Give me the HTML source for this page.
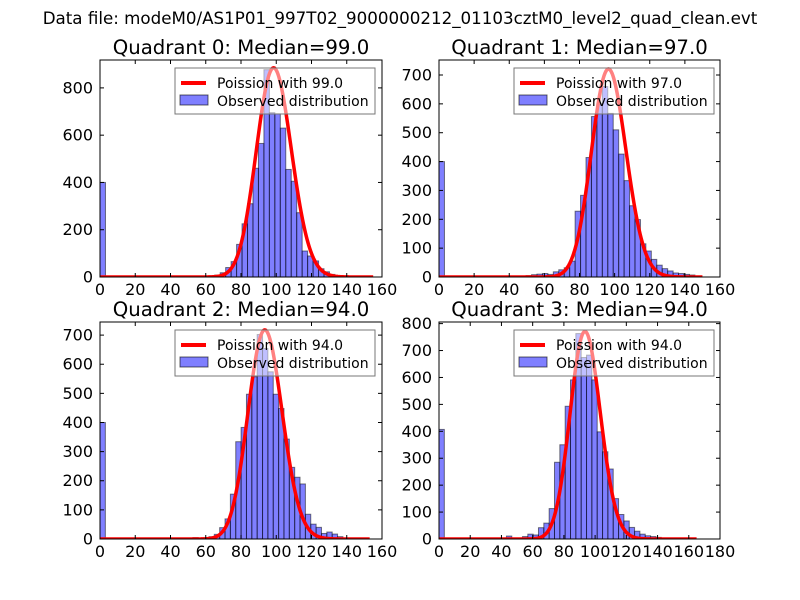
<!DOCTYPE html>
<html><head><meta charset="utf-8"><style>
body{margin:0;background:#fff}
svg{display:block}
text{font-family:"DejaVu Sans","Liberation Sans",sans-serif;fill:#000}
</style></head><body>
<svg id="fig" width="800" height="600" viewBox="0 0 800 600">
<rect width="800" height="600" fill="#fff"/>
<text x="400" y="24" text-anchor="middle" font-size="16.7">Data file: modeM0/AS1P01_997T02_9000000212_01103cztM0_level2_quad_clean.evt</text>
</svg>
<script>
// Data per quadrant
const titles = ["Quadrant 0: Median=99.0","Quadrant 1: Median=97.0","Quadrant 2: Median=94.0","Quadrant 3: Median=94.0"];
const medians = [99.0, 97.0, 94.0, 94.0];
const zeroCounts = [400, 400, 400, 407];
const binStarts = [58.9, 49.6, 52.7, 43.2];
const binWidths = [3.1, 3.1, 3.04, 3.42];
const counts0 = [3,5,8,18,40,65,138,225,310,460,565,877,695,690,630,455,405,272,110,89,68,35,22,11,5,3];
const counts1 = [5,8,10,12,9,18,25,32,55,228,283,414,556,600,660,567,510,426,334,247,199,115,90,61,41,29,21,14,12,9,7,3];
const counts2 = [5,0,4,8,16,39,69,154,334,383,497,557,702,654,574,497,448,343,246,212,189,85,51,40,19,24,17,8,3];
const counts3 = [11,0,0,9,18,15,42,59,113,285,350,493,591,763,674,683,591,398,324,260,150,91,67,43,29,18,12,9,6];
const allCounts = [counts0, counts1, counts2, counts3];
const curvePeaks = [884, 720, 717, 770];
const curveEnds = [155, 150, 153, 165];
const xMaxes = [160, 160, 160, 180];
const yMaxes = [918, 752, 745, 806];
const yTickSteps = [200, 100, 100, 100];
const legendLabels = ["Poission with 99.0","Poission with 97.0","Poission with 94.0","Poission with 94.0"];

const NS = "http://www.w3.org/2000/svg";
const svg = document.getElementById('fig');
const boxes = [[100,60,382,277],[439,60,720,277],[100,322,382,539],[439,322,720,539]];
function mk(tag, attrs, parent){const e=document.createElementNS(NS,tag);for(const k in attrs)e.setAttribute(k,attrs[k]);(parent||svg).appendChild(e);return e;}
function lgamma(z){
  let s=0; while(z<7){s-=Math.log(z);z+=1;}
  return s+(z-0.5)*Math.log(z)-z+0.5*Math.log(2*Math.PI)+1/(12*z)-1/(360*z*z*z);
}
function pois(k,mu){return Math.exp(k*Math.log(mu)-mu-lgamma(k+1));}

for(let q=0;q<4;q++){
  const [L,T,R,B]=boxes[q];
  const xs=v=>L+(R-L)*v/xMaxes[q];
  const ys=v=>B-(B-T)*v/yMaxes[q];
  const g=mk('g',{});
  
  
  const clipId='clip'+q;
  const cp=mk('clipPath',{id:clipId},g);mk('rect',{x:L,y:T,width:R-L,height:B-T},cp);
  const plot=mk('g',{'clip-path':'url(#'+clipId+')'},g);
  const w=binWidths[q];
  const zb=mk('rect',{x:xs(0),y:ys(zeroCounts[q]),width:xs(w)-xs(0),height:B-ys(zeroCounts[q]),fill:'rgba(0,0,255,0.5)',stroke:'rgba(0,0,0,0.5)','stroke-width':1},plot);
  
  
  allCounts[q].forEach((c,i)=>{
    if(c<=0)return;
    const x0=binStarts[q]+i*w;
    const r=mk('rect',{x:xs(x0),y:ys(c),width:xs(x0+w)-xs(x0),height:B-ys(c),fill:'rgba(0,0,255,0.5)',stroke:'rgba(0,0,0,0.5)','stroke-width':1},plot);
    
    
  });
  const mu=medians[q];const norm=curvePeaks[q]/pois(Math.floor(mu),mu);
  let d='';
  for(let k=0;k<=curveEnds[q];k+=0.5){
    const v=norm*pois(k,mu);
    d+=(k===0?'M':'L')+xs(k).toFixed(2)+','+ys(v).toFixed(2);
  }
  const cur=mk('path',{d:d,fill:'none',stroke:'#ff0000','stroke-width':3.5,'stroke-linejoin':'round'},plot);
  
  
  const fr=mk('rect',{x:L,y:T,width:R-L,height:B-T,fill:'none',stroke:'#000','stroke-width':1},g);
  
  
  for(let v=0;v<=xMaxes[q];v+=20){
    const x=xs(v);
    mk('line',{x1:x,y1:B,x2:x,y2:B-4,stroke:'#000'},g);
    mk('line',{x1:x,y1:T,x2:x,y2:T+4,stroke:'#000'},g);
    const t=mk('text',{x:x,y:B+18,'text-anchor':'middle','font-size':16},g);t.textContent=v;
    
    
  }
  for(let v=0;v<=yMaxes[q];v+=yTickSteps[q]){
    const y=ys(v);
    mk('line',{x1:L,y1:y,x2:L+4,y2:y,stroke:'#000'},g);
    mk('line',{x1:R,y1:y,x2:R-4,y2:y,stroke:'#000'},g);
    const t=mk('text',{x:L-7,y:y+5.5,'text-anchor':'end','font-size':16},g);t.textContent=v;
    
    
  }
  const tt=mk('text',{x:(L+R)/2,y:T-6,'text-anchor':'middle','font-size':19.7},g);tt.textContent=titles[q];
  
  
  const lx=L+75, ly=T+8;
  const lg=mk('g',{},g);
  
  
  mk('rect',{x:lx,y:ly,width:200,height:46,fill:'rgba(255,255,255,0.5)',stroke:'#777','stroke-width':1},lg);
  mk('line',{x1:lx+6,y1:ly+15,x2:lx+31,y2:ly+15,stroke:'#ff0000','stroke-width':4},lg);
  const l1=mk('text',{x:lx+42,y:ly+20,'font-size':14},lg);l1.textContent=legendLabels[q];
  
  
  mk('rect',{x:lx+5,y:ly+27,width:28,height:10,fill:'rgba(0,0,255,0.5)',stroke:'rgba(0,0,0,0.6)'},lg);
  const l2=mk('text',{x:lx+42,y:ly+38,'font-size':14},lg);l2.textContent='Observed distribution';
  
  
}
</script>
</body></html>
